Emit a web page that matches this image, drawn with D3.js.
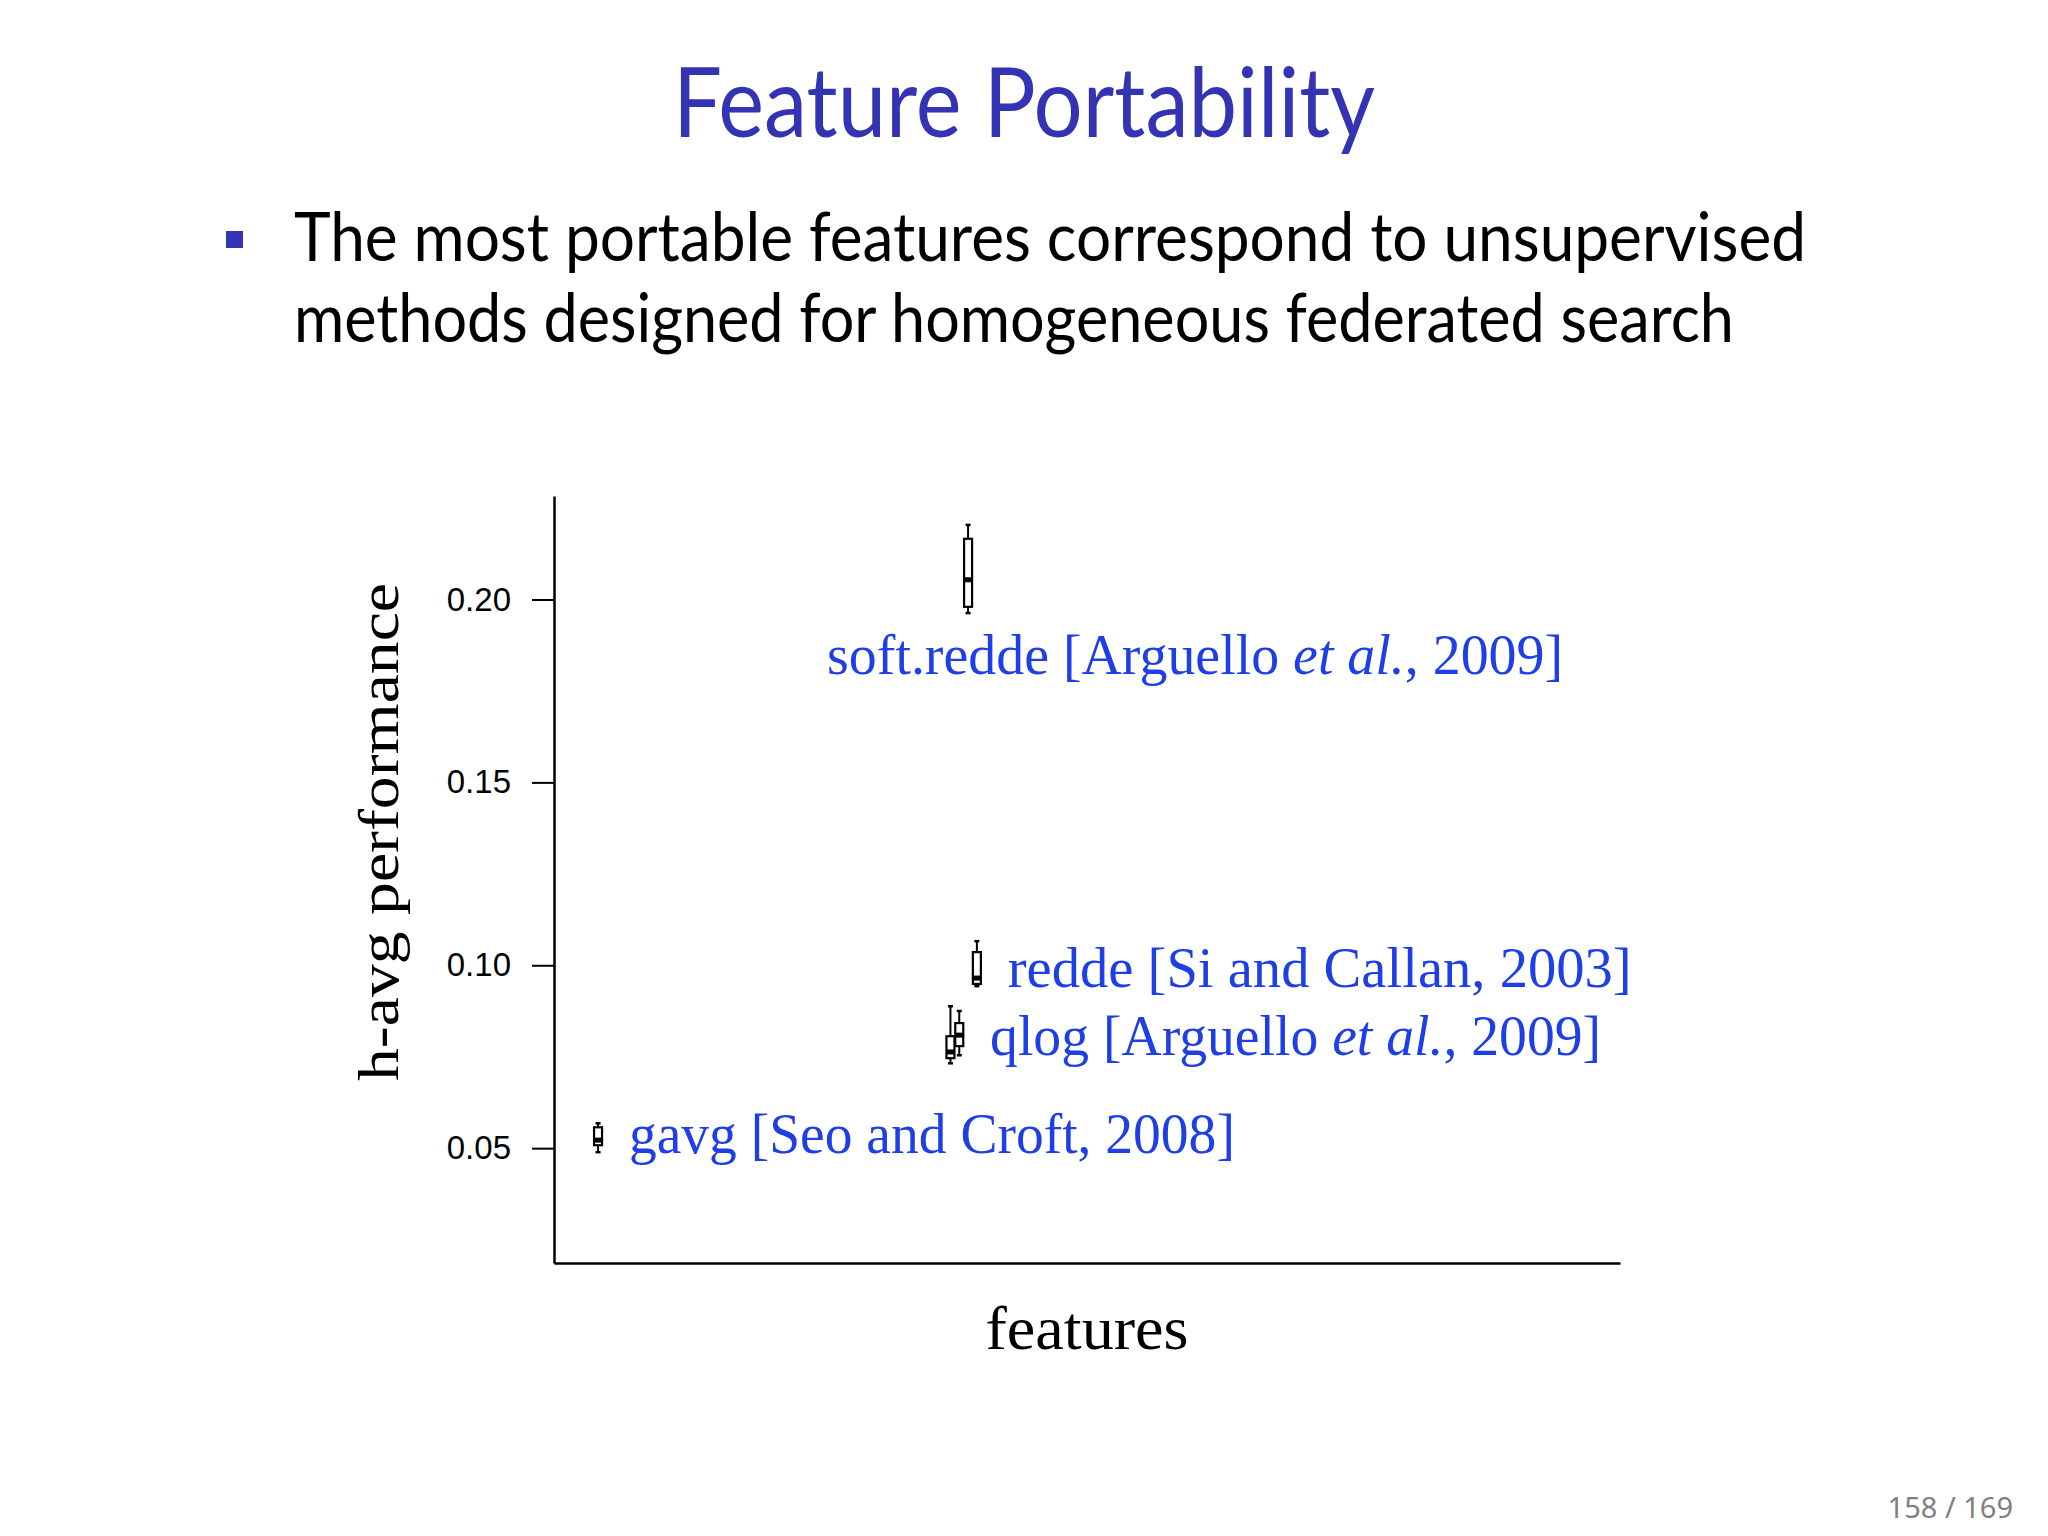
<!DOCTYPE html>
<html lang='en'>
<head>
	<meta charset='UTF-8'/>
	<title>Feature Portability</title>
	<script src='https://cdnjs.cloudflare.com/ajax/libs/d3/7.8.5/d3.min.js'></script>
	<style>
		body {margin: 0; background: #fff;}
		svg {display: block;}
	</style>
</head>
<body>
	<div class='graph'></div>
	<script>
		// data
		const featureNames = ['gavg', 'qlog', 'qlog', 'soft.redde', 'redde'];
		const featureIndex = [5, 45, 46, 47, 48];
		const whiskerHi = [0.0568, 0.0888, 0.0875, 0.2204, 0.1066];
		const q3Values = [0.0557, 0.0806, 0.0842, 0.2166, 0.1036];
		const medians = [0.0522, 0.0763, 0.0809, 0.2054, 0.0965];
		const q1Values = [0.0508, 0.0746, 0.0779, 0.1980, 0.0949];
		const whiskerLo = [0.0489, 0.0732, 0.0754, 0.1963, 0.0943];
		const yTicks = [0.05, 0.10, 0.15, 0.20];

		const labelText = [
			['gavg [Seo and Croft, 2008]'],
			['qlog [Arguello ', 'et al.', ', 2009]'],
			['soft.redde [Arguello ', 'et al.', ', 2009]'],
			['redde [Si and Callan, 2003]']
		];
		const labelValue = [0.0488, 0.0755, 0.1796, 0.0940];
		const labelIndex = [8.5, 49.5, 31, 51.5];

		var width = 2048, height = 1536;
		var margin = ({top: 496, right: 428, bottom: 273, left: 554});
		const blue = '#3333b3';
		const labelBlue = '#1f3fe6';

		var svg = d3.select('.graph')
			.append('svg')
			.attr('width', width)
			.attr('height', height);
		svg.append('rect').attr('width', width).attr('height', height).attr('fill', '#fff');

		// slide title and bullet
		svg.append('text')
			.text('Feature Portability')
			.attr('x', width / 2)
			.attr('y', 137)
			.attr('text-anchor', 'middle')
			.attr('textLength', 702)
			.attr('lengthAdjust', 'spacingAndGlyphs')
			.style('font-family', 'Lato, "Open Sans", sans-serif')
			.style('font-size', '96px')
			.attr('fill', blue);
		svg.append('rect')
			.attr('x', 226).attr('y', 231)
			.attr('width', 17).attr('height', 17)
			.attr('fill', blue);
		var bullet = ['The most portable features correspond to unsupervised',
			'methods designed for homogeneous federated search'];
		var bulletW = [1512, 1440];
		bullet.forEach((t, i) => {
			svg.append('text')
				.text(t)
				.attr('x', 294)
				.attr('y', 261 + i * 81)
				.attr('textLength', bulletW[i])
				.attr('lengthAdjust', 'spacingAndGlyphs')
				.style('font-family', 'Lato, "Open Sans", sans-serif')
				.style('font-size', '68px')
				.attr('fill', '#000');
		});

		// page number
		svg.append('text')
			.text('158 / 169')
			.attr('x', 2013)
			.attr('y', 1518)
			.attr('text-anchor', 'end')
			.style('font-family', '"Noto Sans", sans-serif')
			.style('font-size', '29px')
			.attr('fill', '#808080');

		// scales
		const X_SCALE = d3.scaleLinear()
			.domain([0, 121])
			.range([margin.left, width - margin.right]);
		const Y_SCALE = d3.scaleLinear()
			.domain([0.0186, 0.2283])
			.range([height - margin.bottom, margin.top]);

		// axes (R style: only left + bottom line)
		var yAxis = svg.append('g')
			.attr('transform', 'translate(' + margin.left + ', 0)')
			.call(d3.axisLeft(Y_SCALE).tickValues(yTicks).tickFormat(d3.format('.2f'))
				.tickSize(22).tickPadding(21).tickSizeOuter(0));
		yAxis.select('.domain').attr('stroke-width', 2.5);
		yAxis.selectAll('.tick line').attr('stroke-width', 2);
		yAxis.selectAll('.tick text')
			.style('font-family', '"Liberation Sans", Arial, sans-serif')
			.style('font-size', '33px')
			.attr('fill', '#000');

		var xAxis = svg.append('g')
			.attr('transform', 'translate(0, ' + (height - margin.bottom) + ')')
			.call(d3.axisBottom(X_SCALE).tickValues([]).tickSizeOuter(0));
		xAxis.select('.domain').attr('stroke-width', 2.5);

		svg.append('text')
			.text('h-avg performance')
			.attr('transform', 'translate(398, 832) rotate(-90)')
			.attr('text-anchor', 'middle')
			.attr('textLength', 498)
			.attr('lengthAdjust', 'spacingAndGlyphs')
			.style('font-family', '"Liberation Serif", serif')
			.style('font-size', '58px')
			.attr('fill', '#000');
		svg.append('text')
			.text('features')
			.attr('x', 1087)
			.attr('y', 1349)
			.attr('text-anchor', 'middle')
			.attr('textLength', 203)
			.attr('lengthAdjust', 'spacingAndGlyphs')
			.style('font-family', '"Liberation Serif", serif')
			.style('font-size', '62px')
			.attr('fill', '#000');

		// boxplots
		const boxW = 8, capW = 5;
		var boxes = svg.append('g').selectAll('g')
			.data(featureIndex)
			.enter()
			.append('g');
		boxes.append('line')
			.attr('x1', d => X_SCALE(d)).attr('x2', d => X_SCALE(d))
			.attr('y1', (d, i) => Y_SCALE(whiskerHi[i]))
			.attr('y2', (d, i) => Y_SCALE(whiskerLo[i]))
			.attr('stroke', '#000').attr('stroke-width', 2);
		boxes.append('line')
			.attr('x1', d => X_SCALE(d) - capW / 2).attr('x2', d => X_SCALE(d) + capW / 2)
			.attr('y1', (d, i) => Y_SCALE(whiskerHi[i]))
			.attr('y2', (d, i) => Y_SCALE(whiskerHi[i]))
			.attr('stroke', '#000').attr('stroke-width', 2.5);
		boxes.append('line')
			.attr('x1', d => X_SCALE(d) - capW / 2).attr('x2', d => X_SCALE(d) + capW / 2)
			.attr('y1', (d, i) => Y_SCALE(whiskerLo[i]))
			.attr('y2', (d, i) => Y_SCALE(whiskerLo[i]))
			.attr('stroke', '#000').attr('stroke-width', 2.5);
		boxes.append('rect')
			.attr('x', d => X_SCALE(d) - boxW / 2)
			.attr('width', boxW)
			.attr('y', (d, i) => Y_SCALE(q3Values[i]))
			.attr('height', (d, i) => Y_SCALE(q1Values[i]) - Y_SCALE(q3Values[i]))
			.attr('fill', '#fff')
			.attr('stroke', '#000').attr('stroke-width', 2.2);
		boxes.append('rect')
			.attr('x', d => X_SCALE(d) - boxW / 2)
			.attr('width', boxW)
			.attr('y', (d, i) => Y_SCALE(medians[i]) - 2.5)
			.attr('height', 5)
			.attr('fill', '#000');

		// feature labels
		var labelW = [606, 611, 736, 624];
		labelText.forEach((parts, k) => {
			var t = svg.append('text')
				.attr('x', X_SCALE(labelIndex[k]))
				.attr('y', Y_SCALE(labelValue[k]))
				.attr('textLength', labelW[k])
				.attr('lengthAdjust', 'spacingAndGlyphs')
				.style('font-family', '"Liberation Serif", serif')
				.style('font-size', '56px')
				.attr('fill', labelBlue);
			parts.forEach((p, j) => {
				t.append('tspan')
					.text(p)
					.style('font-style', j == 1 ? 'italic' : 'normal');
			});
		});
	</script>
</body>
</html>
